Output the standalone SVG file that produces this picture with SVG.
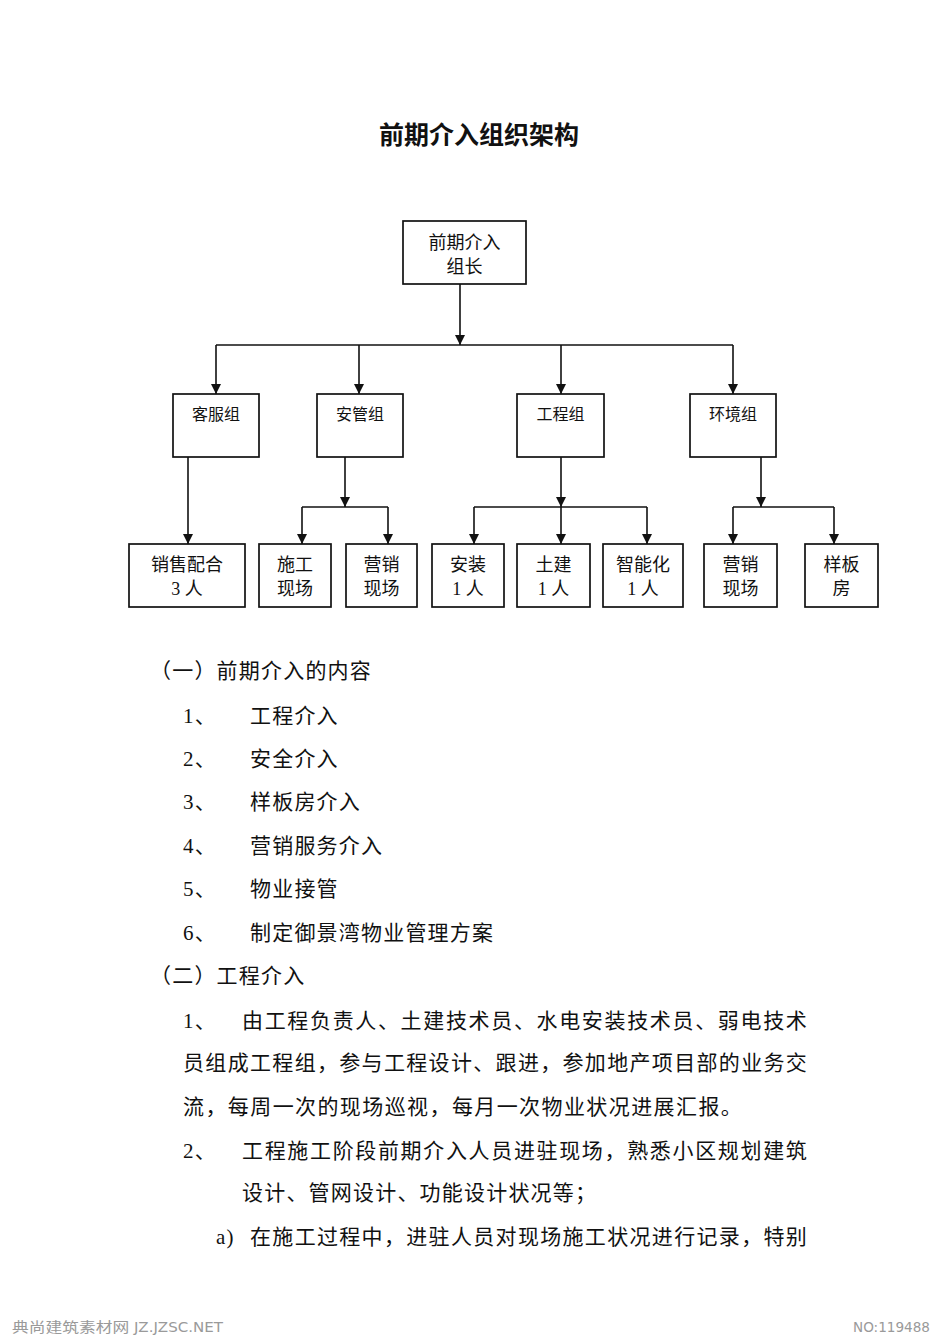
<svg xmlns="http://www.w3.org/2000/svg" width="950" height="1343" viewBox="0 0 950 1343">
<style>
text{font-family:"Liberation Serif","Noto Sans CJK SC",serif;fill:#111}
.title{font-size:25px;font-weight:bold;font-family:"Noto Sans CJK SC",sans-serif}
.box{fill:#fff;stroke:#111;stroke-width:1.7}
.lbl{font-size:18px;text-anchor:middle}
.glbl{font-size:16px;text-anchor:middle}
.body{font-size:21px;letter-spacing:1.2px}
.conn{fill:none;stroke:#111;stroke-width:1.6}
.foot{font-family:"DejaVu Sans Condensed","Noto Sans CJK SC",sans-serif;font-size:14px;fill:#9a9a9a}
</style>
<defs>
<marker id="arr" markerUnits="userSpaceOnUse" markerWidth="10" markerHeight="10" viewBox="0 0 10 10" preserveAspectRatio="none" refX="10" refY="5" orient="auto">
<path d="M0,0 L10,5 L0,10 z" fill="#111"/>
</marker>
</defs>
<rect width="950" height="1343" fill="#fff"/>
<text class="title" x="479" y="144" text-anchor="middle">前期介入组织架构</text>

<g id="connectors">
<path class="conn" d="M460,284 V345" marker-end="url(#arr)"/>
<path class="conn" d="M216,345 H733"/>
<path class="conn" d="M216,345 V394" marker-end="url(#arr)"/>
<path class="conn" d="M359,345 V394" marker-end="url(#arr)"/>
<path class="conn" d="M561,345 V394" marker-end="url(#arr)"/>
<path class="conn" d="M733,345 V394" marker-end="url(#arr)"/>
<path class="conn" d="M188,457 V544" marker-end="url(#arr)"/>
<path class="conn" d="M345,457 V507" marker-end="url(#arr)"/>
<path class="conn" d="M302,507 H388"/>
<path class="conn" d="M302,507 V544" marker-end="url(#arr)"/>
<path class="conn" d="M388,507 V544" marker-end="url(#arr)"/>
<path class="conn" d="M561,457 V507" marker-end="url(#arr)"/>
<path class="conn" d="M474,507 H647"/>
<path class="conn" d="M474,507 V544" marker-end="url(#arr)"/>
<path class="conn" d="M561,507 V544" marker-end="url(#arr)"/>
<path class="conn" d="M647,507 V544" marker-end="url(#arr)"/>
<path class="conn" d="M761,457 V507" marker-end="url(#arr)"/>
<path class="conn" d="M733,507 H834"/>
<path class="conn" d="M733,507 V544" marker-end="url(#arr)"/>
<path class="conn" d="M834,507 V544" marker-end="url(#arr)"/>
</g>

<g id="leader"><rect class="box" x="403" y="221" width="123" height="63"/><text class="lbl" x="464.5" y="249">前期介入</text><text class="lbl" x="464.5" y="273">组长</text></g>

<g id="kefu"><rect class="box" x="173" y="394" width="86" height="63"/><text class="glbl" x="216" y="420">客服组</text></g>
<g id="anguan"><rect class="box" x="317" y="394" width="86" height="63"/><text class="glbl" x="360" y="420">安管组</text></g>
<g id="gongcheng"><rect class="box" x="517" y="394" width="87" height="63"/><text class="glbl" x="560.5" y="420">工程组</text></g>
<g id="huanjing"><rect class="box" x="690" y="394" width="86" height="63"/><text class="glbl" x="733" y="420">环境组</text></g>

<g id="xiaoshou"><rect class="box" x="129" y="544" width="116" height="63"/><text class="lbl" x="187" y="571">销售配合</text><text class="lbl" x="187" y="595">3 人</text></g>
<g id="shigong"><rect class="box" x="259" y="544" width="72" height="63"/><text class="lbl" x="295" y="571">施工</text><text class="lbl" x="295" y="595">现场</text></g>
<g id="yingxiao1"><rect class="box" x="346" y="544" width="71" height="63"/><text class="lbl" x="381.5" y="571">营销</text><text class="lbl" x="381.5" y="595">现场</text></g>
<g id="anzhuang"><rect class="box" x="432" y="544" width="72" height="63"/><text class="lbl" x="468" y="571">安装</text><text class="lbl" x="468" y="595">1 人</text></g>
<g id="tujian"><rect class="box" x="517" y="544" width="73" height="63"/><text class="lbl" x="553.5" y="571">土建</text><text class="lbl" x="553.5" y="595">1 人</text></g>
<g id="zhineng"><rect class="box" x="603" y="544" width="80" height="63"/><text class="lbl" x="643" y="571">智能化</text><text class="lbl" x="643" y="595">1 人</text></g>
<g id="yingxiao2"><rect class="box" x="704" y="544" width="73" height="63"/><text class="lbl" x="740.5" y="571">营销</text><text class="lbl" x="740.5" y="595">现场</text></g>
<g id="yangban"><rect class="box" x="805" y="544" width="73" height="63"/><text class="lbl" x="841.5" y="571">样板</text><text class="lbl" x="841.5" y="595">房</text></g>

<g id="body">
<text class="body" x="150" y="678">（一）前期介入的内容</text>
<text class="body" x="183" y="723">1、</text><text class="body" x="250" y="723">工程介入</text>
<text class="body" x="183" y="766">2、</text><text class="body" x="250" y="766">安全介入</text>
<text class="body" x="183" y="809">3、</text><text class="body" x="250" y="809">样板房介入</text>
<text class="body" x="183" y="853">4、</text><text class="body" x="250" y="853">营销服务介入</text>
<text class="body" x="183" y="896">5、</text><text class="body" x="250" y="896">物业接管</text>
<text class="body" x="183" y="940">6、</text><text class="body" x="250" y="940">制定御景湾物业管理方案</text>
<text class="body" x="150" y="983">（二）工程介入</text>
<text class="body" x="183" y="1028">1、</text>
<text class="body" x="242" y="1028" textLength="566" lengthAdjust="spacing">由工程负责人、土建技术员、水电安装技术员、弱电技术</text>
<text class="body" x="183" y="1070" textLength="625" lengthAdjust="spacing">员组成工程组，参与工程设计、跟进，参加地产项目部的业务交</text>
<text class="body" x="183" y="1114" textLength="560" lengthAdjust="spacing">流，每周一次的现场巡视，每月一次物业状况进展汇报。</text>
<text class="body" x="183" y="1158">2、</text>
<text class="body" x="242" y="1158" textLength="566" lengthAdjust="spacing">工程施工阶段前期介入人员进驻现场，熟悉小区规划建筑</text>
<text class="body" x="242" y="1200">设计、管网设计、功能设计状况等；</text>
<text class="body" x="216" y="1244">a)</text>
<text class="body" x="250" y="1244" textLength="558" lengthAdjust="spacing">在施工过程中，进驻人员对现场施工状况进行记录，特别</text>
</g>

<text class="foot" x="12" y="1332" textLength="211" lengthAdjust="spacingAndGlyphs">典尚建筑素材网 JZ.JZSC.NET</text>
<text class="foot" x="853" y="1332" textLength="77" lengthAdjust="spacingAndGlyphs">NO:119488</text>
</svg>
